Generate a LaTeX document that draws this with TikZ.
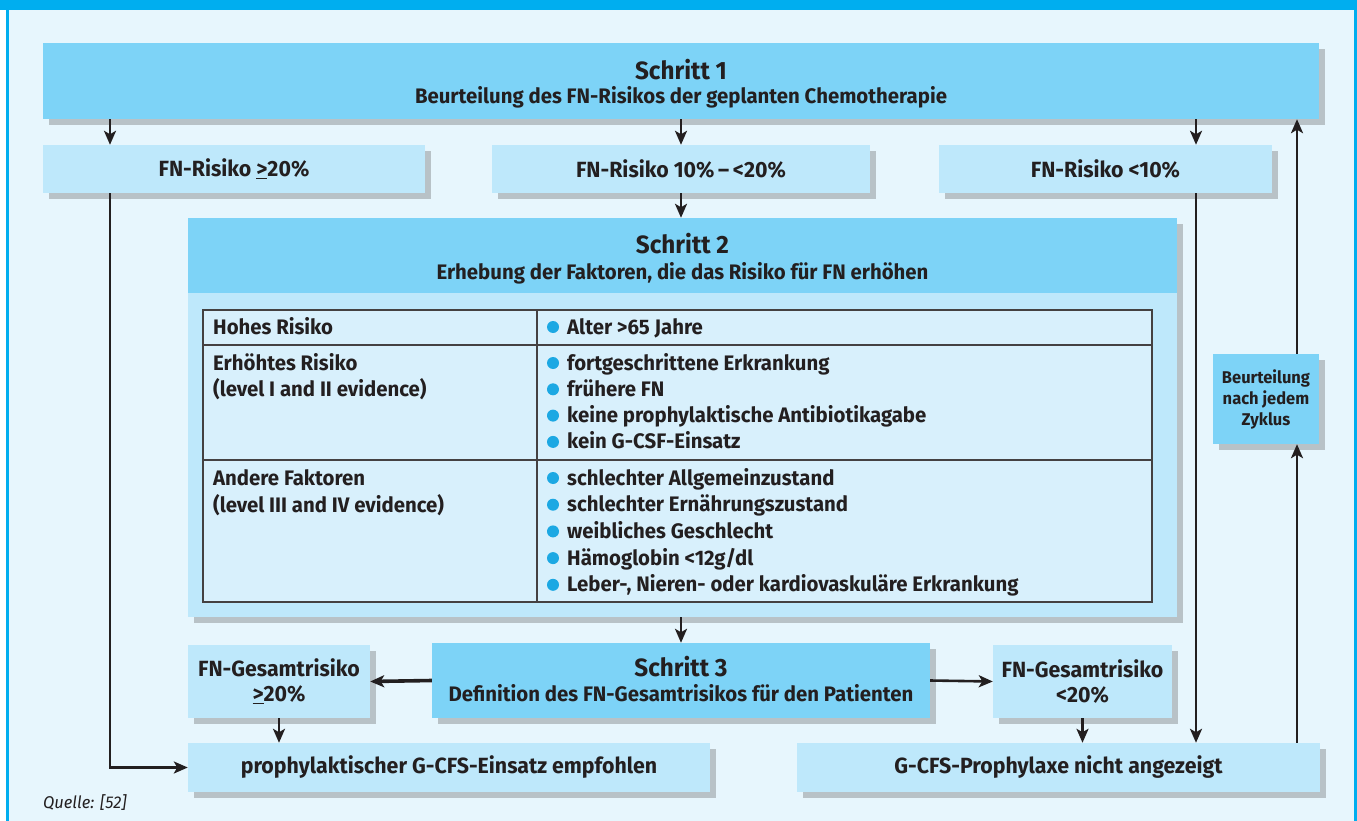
\documentclass[tikz,border=0pt]{standalone}
\usepackage{fontspec}
\setmainfont{Fira Sans}[FakeStretch=0.97]
\usetikzlibrary{shadows,arrows.meta}

\definecolor{frameblue}{HTML}{00AEEF}
\definecolor{stepblue}{HTML}{7DD3F7}
\definecolor{riskblue}{HTML}{BEE8FB}
\definecolor{paleblue}{HTML}{E7F6FD}
\definecolor{cellblue}{HTML}{D8F0FC}
\definecolor{dotblue}{HTML}{1CA8E3}
\definecolor{inkgray}{HTML}{231F20}

\newcommand\stephead{\bfseries\fontsize{25}{27}\selectfont}
\newcommand\stepsub{\bfseries\fontsize{21}{24}\selectfont}
\newcommand\boxtext{\bfseries\fontsize{22}{25}\selectfont}
\newcommand\tabtext{\bfseries\fontsize{21}{24}\selectfont}
\newcommand\cycletext{\bfseries\fontsize{17}{21}\selectfont}

\tikzset{
  shade box/.style={drop shadow={shadow xshift=6pt, shadow yshift=-6pt,
      fill=black!70, opacity=0.3}},
  stepbox/.style={shade box, fill=stepblue, inner sep=0pt},
  riskbox/.style={shade box, fill=riskblue, inner sep=0pt, align=center,
      text=inkgray, font=\boxtext},
  steptitle/.style={anchor=base, text=inkgray, inner sep=0pt},
  cellitem/.style={anchor=base west, text=inkgray, inner sep=0pt, font=\tabtext},
  flow/.style={draw=inkgray, line width=2.6pt,
      -{Stealth[length=14pt, width=12pt, inset=3.5pt]}},
  bigflow/.style={flow, line width=3.6pt},
}

\begin{document}
\begin{tikzpicture}[x=1pt, y=-1pt]
\useasboundingbox (0,0) rectangle (1357,821);
\clip (0,0) rectangle (1357,821);

% frame
    \fill[white] (0,0) rectangle (1357,821);
    \draw[frameblue, line width=3pt, fill=paleblue] (7,5) rectangle (1355,840);
    \fill[frameblue] (0,0) rectangle (1357,10);

% step 1
    \node[stepbox, minimum width=1276pt, minimum height=76pt] (step1) at (681,81) {};
    \node[steptitle, font=\stephead] (step1a) at (681,80) {Schritt 1};
    \node[steptitle, font=\stepsub] (step1b) at (681,104)
        {Beurteilung des FN-Risikos der geplanten Chemotherapie};

% risk groups
    \node[riskbox, minimum width=382pt, minimum height=48pt] (riskhigh) at (234,169)
        {FN-Risiko \underline{>}20\%};
    \node[riskbox, minimum width=378pt, minimum height=48pt] (riskmid) at (681,169)
        {FN-Risiko 10\%\,--\,<20\%};
    \node[riskbox, minimum width=333pt, minimum height=48pt] (risklow) at (1105.5,169)
        {FN-Risiko <10\%};

% step 2
    \node[shade box, fill=riskblue, minimum width=989pt, minimum height=399pt,
        inner sep=0pt] (step2) at (682.5,417.5) {};
    \fill[stepblue] (step2.north west) rectangle (step2.east |- 0,293);
    \node[steptitle, font=\stephead] (step2a) at (682.5,254) {Schritt 2};
    \node[steptitle, font=\stepsub] (step2b) at (682.5,279)
        {Erhebung der Faktoren, die das Risiko für FN erhöhen};

% table
    \node[draw=inkgray!85, line width=1.2pt, fill=cellblue, minimum width=949pt,
        minimum height=292pt, inner sep=0pt] (tab) at (677.5,456) {};
    \draw[inkgray!85, line width=1.2pt] (tab.west |- 0,345) -- (tab.east |- 0,345);
    \draw[inkgray!85, line width=1.2pt] (tab.west |- 0,460) -- (tab.east |- 0,460);
    \draw[inkgray!85, line width=1.2pt] (tab.north -| 537,0) -- (tab.south -| 537,0);

    \node[cellitem] (hohes) at (213,334) {Hohes Risiko};
    \node[cellitem] (erhoeht) at (213,370) {Erhöhtes Risiko};
    \node[cellitem] (erhoehtb) at (213,396) {(level I and II evidence)};
    \node[cellitem] (andere) at (213,485) {Andere Faktoren};
    \node[cellitem] (andereb) at (213,512) {(level III and IV evidence)};

    \node[cellitem] (alter) at (567,334) {Alter >65 Jahre};
    \fill[dotblue] (553,327) circle[radius=6pt];
    \foreach \txt [count=\i from 0] in {fortgeschrittene Erkrankung, frühere FN,
        keine prophylaktische Antibiotikagabe, kein G-CSF-Einsatz} {
      \node[cellitem] (mid\i) at (567,370+26.3*\i) {\txt};
      \fill[dotblue] (553,363+26.3*\i) circle[radius=6pt];
    }
    \foreach \txt [count=\i from 0] in {schlechter Allgemeinzustand,
        schlechter Ernährungszustand, weibliches Geschlecht, Hämoglobin <12g/dl,
        {Leber-, Nieren- oder kardiovaskuläre Erkrankung}} {
      \node[cellitem] (low\i) at (567,485+26.7*\i) {\txt};
      \fill[dotblue] (553,478+26.7*\i) circle[radius=6pt];
    }

% cycle check
    \node[stepbox, minimum width=106pt, minimum height=90pt, align=center,
        text=inkgray, font=\cycletext] (cycle) at (1266,399)
        {Beurteilung\\nach jedem\\Zyklus};

% step 3
    \node[stepbox, minimum width=498pt, minimum height=75pt] (step3) at (681,680.5) {};
    \node[steptitle, font=\stephead] (step3a) at (681,676) {Schritt 3};
    \node[steptitle, font=\stepsub] (step3b) at (681,701)
        {Definition des FN-Gesamtrisikos für den Patienten};

% overall risk
    \node[riskbox, minimum width=182pt, minimum height=73pt] (totalhigh) at (279,681.5)
        {FN-Gesamtrisiko\\\underline{>}20\%};
    \node[riskbox, minimum width=179pt, minimum height=73pt] (totallow) at (1082.5,681.5)
        {FN-Gesamtrisiko\\<20\%};

% outcome
    \node[riskbox, minimum width=522pt, minimum height=49pt] (advised) at (449,767.5)
        {prophylaktischer G-CFS-Einsatz empfohlen};
    \node[riskbox, minimum width=523pt, minimum height=49pt] (notadvised) at (1058.5,767.5)
        {G-CFS-Prophylaxe nicht angezeigt};

% source
    \node[anchor=base west, inner sep=0pt, text=inkgray,
        font=\itshape\fontsize{17}{19}\selectfont] (source) at (43,808) {Quelle: [52]};

% connectors
    \coordinate (lx) at (110,0);
    \coordinate (rx) at (1196,0);
    \coordinate (ux) at (1297,0);
    \draw[flow] (step1.south -| lx) -- (riskhigh.north -| lx);
    \draw[flow] (step1.south -| riskmid) -- (riskmid.north);
    \draw[flow] (step1.south -| rx) -- (risklow.north -| rx);
    \draw[flow] (riskmid.south) -- (riskmid.south |- step2.north);
    \draw[flow] (riskhigh.south -| lx) |- (advised.west);
    \draw[flow] (risklow.south -| rx) -- (notadvised.north -| rx);
    \draw[flow] (notadvised.north -| ux) -- (cycle.south -| ux);
    \draw[flow] (cycle.north -| ux) -- (step1.south -| ux);
    \draw[flow] (step2.south -| step3) -- (step3.north);
    \draw[bigflow] (step3.west) -- (totalhigh.east);
    \draw[flow] (step3.east) -- (totallow.west);
    \draw[flow] (totalhigh.south) -- (totalhigh.south |- advised.north);
    \draw[flow] (totallow.south) -- (totallow.south |- notadvised.north);

\end{tikzpicture}
\end{document}
